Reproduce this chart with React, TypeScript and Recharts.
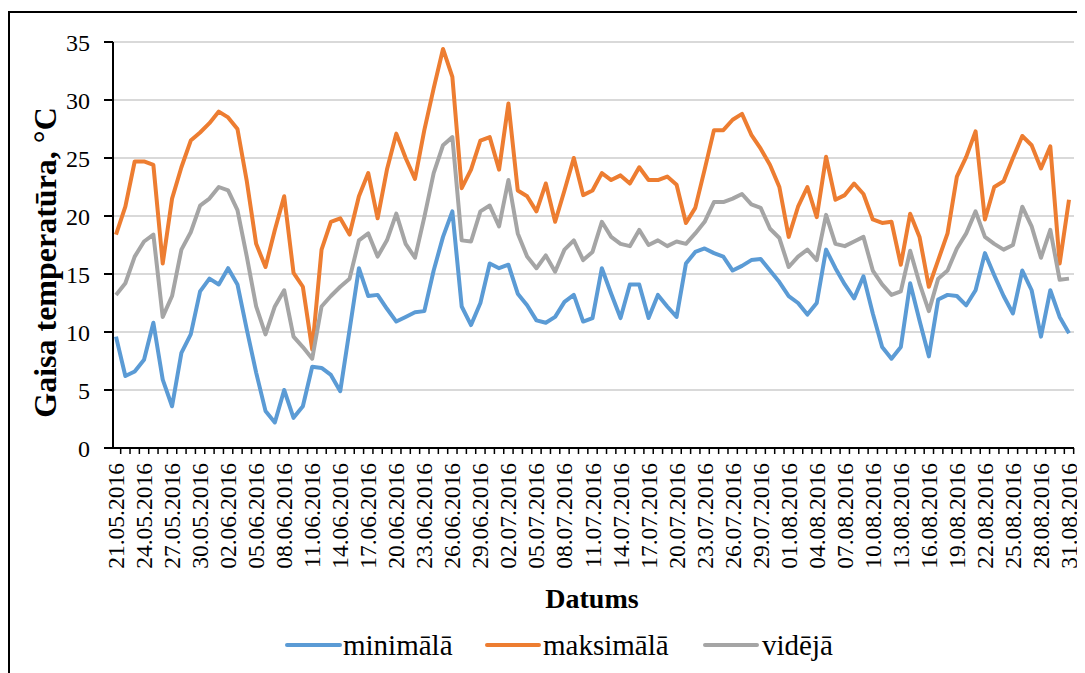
import React from 'react';
import { LineChart, Line, XAxis, YAxis, CartesianGrid } from 'recharts';

const dates: string[] = [
  '21.05.2016', '22.05.2016', '23.05.2016', '24.05.2016', '25.05.2016', '26.05.2016', '27.05.2016', '28.05.2016', '29.05.2016', '30.05.2016', '31.05.2016',
  '01.06.2016', '02.06.2016', '03.06.2016', '04.06.2016', '05.06.2016', '06.06.2016', '07.06.2016', '08.06.2016', '09.06.2016', '10.06.2016',
  '11.06.2016', '12.06.2016', '13.06.2016', '14.06.2016', '15.06.2016', '16.06.2016', '17.06.2016', '18.06.2016', '19.06.2016', '20.06.2016',
  '21.06.2016', '22.06.2016', '23.06.2016', '24.06.2016', '25.06.2016', '26.06.2016', '27.06.2016', '28.06.2016', '29.06.2016', '30.06.2016',
  '01.07.2016', '02.07.2016', '03.07.2016', '04.07.2016', '05.07.2016', '06.07.2016', '07.07.2016', '08.07.2016', '09.07.2016', '10.07.2016',
  '11.07.2016', '12.07.2016', '13.07.2016', '14.07.2016', '15.07.2016', '16.07.2016', '17.07.2016', '18.07.2016', '19.07.2016', '20.07.2016',
  '21.07.2016', '22.07.2016', '23.07.2016', '24.07.2016', '25.07.2016', '26.07.2016', '27.07.2016', '28.07.2016', '29.07.2016', '30.07.2016',
  '31.07.2016', '01.08.2016', '02.08.2016', '03.08.2016', '04.08.2016', '05.08.2016', '06.08.2016', '07.08.2016', '08.08.2016', '09.08.2016',
  '10.08.2016', '11.08.2016', '12.08.2016', '13.08.2016', '14.08.2016', '15.08.2016', '16.08.2016', '17.08.2016', '18.08.2016', '19.08.2016',
  '20.08.2016', '21.08.2016', '22.08.2016', '23.08.2016', '24.08.2016', '25.08.2016', '26.08.2016', '27.08.2016', '28.08.2016', '29.08.2016',
  '30.08.2016', '31.08.2016',
];

const minimala: number[] = [
  9.6, 6.2, 6.6, 7.6, 10.8, 5.9, 3.6, 8.2, 9.8, 13.5,
  14.6, 14.1, 15.5, 14.1, 10.2, 6.5, 3.2, 2.2, 5.0, 2.6,
  3.6, 7.0, 6.9, 6.3, 4.9, 10.2, 15.5, 13.1, 13.2, 12.0,
  10.9, 11.3, 11.7, 11.8, 15.3, 18.2, 20.4, 12.2, 10.6, 12.5,
  15.9, 15.5, 15.8, 13.3, 12.3, 11.0, 10.8, 11.3, 12.6, 13.2,
  10.9, 11.2, 15.5, 13.3, 11.2, 14.1, 14.1, 11.2, 13.2, 12.2,
  11.3, 15.9, 16.9, 17.2, 16.8, 16.5, 15.3, 15.7, 16.2, 16.3,
  15.3, 14.3, 13.1, 12.5, 11.5, 12.5, 17.1, 15.5, 14.1, 12.9,
  14.8, 11.6, 8.7, 7.7, 8.7, 14.2, 11.0, 7.9, 12.8, 13.2,
  13.1, 12.3, 13.6, 16.8, 14.9, 13.1, 11.6, 15.3, 13.6, 9.6,
  13.6, 11.3, 9.9,
];

const maksimala: number[] = [
  18.4, 20.8, 24.7, 24.7, 24.4, 15.9, 21.5, 24.2, 26.5, 27.2,
  28.0, 29.0, 28.5, 27.5, 23.0, 17.6, 15.6, 18.8, 21.7, 15.1,
  13.9, 8.5, 17.1, 19.5, 19.8, 18.4, 21.7, 23.7, 19.8, 24.0,
  27.1, 25.0, 23.2, 27.4, 31.0, 34.4, 32.0, 22.4, 24.0, 26.5,
  26.8, 24.0, 29.7, 22.2, 21.7, 20.4, 22.8, 19.5, 22.2, 25.0,
  21.8, 22.2, 23.7, 23.1, 23.5, 22.8, 24.2, 23.1, 23.1, 23.4,
  22.7, 19.4, 20.7, 24.0, 27.4, 27.4, 28.3, 28.8, 27.0, 25.8,
  24.4, 22.5, 18.2, 20.8, 22.5, 19.9, 25.1, 21.4, 21.8, 22.8,
  21.9, 19.7, 19.4, 19.5, 15.8, 20.2, 18.2, 13.9, 16.2, 18.5,
  23.4, 25.1, 27.3, 19.7, 22.5, 23.0, 25.0, 26.9, 26.1, 24.1,
  26.0, 15.9, 21.4,
];

const videja: number[] = [
  13.2, 14.2, 16.5, 17.8, 18.4, 11.3, 13.1, 17.1, 18.6, 20.9,
  21.5, 22.5, 22.2, 20.5, 16.5, 12.2, 9.8, 12.2, 13.6, 9.6,
  8.7, 7.7, 12.2, 13.1, 13.9, 14.6, 17.9, 18.5, 16.5, 17.9,
  20.2, 17.6, 16.4, 19.9, 23.7, 26.1, 26.8, 17.9, 17.8, 20.4,
  20.9, 19.1, 23.1, 18.5, 16.5, 15.5, 16.6, 15.2, 17.1, 17.9,
  16.2, 16.9, 19.5, 18.2, 17.6, 17.4, 18.8, 17.5, 17.9, 17.4,
  17.8, 17.6, 18.5, 19.5, 21.2, 21.2, 21.5, 21.9, 21.0, 20.7,
  18.9, 18.1, 15.6, 16.5, 17.1, 16.2, 20.1, 17.6, 17.4, 17.8,
  18.2, 15.3, 14.1, 13.2, 13.5, 17.0, 14.2, 11.8, 14.6, 15.3,
  17.2, 18.5, 20.4, 18.2, 17.6, 17.1, 17.5, 20.8, 19.1, 16.4,
  18.8, 14.5, 14.6,
];

const yTicks: number[] = [0, 5, 10, 15, 20, 25, 30, 35];

const seriesNames = { min: 'minimālā', max: 'maksimālā', avg: 'vidējā' };
const colors = { min: '#5B9BD5', max: '#ED7D31', avg: '#A5A5A5' };

const data = dates.map((d, i) => ({
  date: d,
  min: minimala[i],
  max: maksimala[i],
  avg: videja[i],
}));

const SERIF = '"Liberation Serif", "Times New Roman", serif';
const W = 1077;
const H = 665;
const STEP = 9.34;

function DateTick(props: any) {
  const { x, y, payload, index } = props;
  const last = index === dates.length - 1;
  return (
    <g>
      {index > 0 && (
        <line x1={x - STEP / 2} x2={x - STEP / 2} y1={y} y2={y + 6} stroke="#000" strokeWidth={1.5} />
      )}
      {last && (
        <line x1={x + STEP / 2} x2={x + STEP / 2} y1={y} y2={y + 6} stroke="#000" strokeWidth={1.5} />
      )}
      {index % 3 === 0 && (
        <text
          transform={`translate(${x},${y + 15}) rotate(-90)`}
          textAnchor="end"
          dominantBaseline="central"
          fontSize={23.5}
          fontFamily={SERIF}
          fill="#000"
        >
          {payload.value}
        </text>
      )}
    </g>
  );
}

export default function App() {
  return (
    <div style={{ position: 'relative', width: W, height: H, overflow: 'hidden', background: '#fff' }}>
      <div
        style={{
          position: 'absolute',
          left: 0,
          top: 3,
          width: W + 20,
          height: H + 20,
          borderTop: '2px solid #000',
          borderLeft: '2px solid #000',
          boxSizing: 'border-box',
        }}
      />
      <div style={{ position: 'absolute', left: 0, top: 0 }}>
        <LineChart width={W} height={H} data={data} margin={{ top: 34, right: 11, bottom: 95, left: 0 }}>
          <CartesianGrid vertical={false} stroke="#d9d9d9" strokeWidth={2} />
          <XAxis
            dataKey="date"
            interval={0}
            tick={<DateTick />}
            tickLine={false}
            tickSize={0}
            tickMargin={0}
            axisLine={{ stroke: '#000', strokeWidth: 2 }}
            padding={{ left: 3, right: 5 }}
            height={130}
          />
          <YAxis
            width={105}
            domain={[0, 35]}
            ticks={yTicks}
            interval={0}
            tickSize={9}
            tickMargin={14}
            axisLine={{ stroke: '#000', strokeWidth: 2 }}
            tickLine={{ stroke: '#000', strokeWidth: 2 }}
            tick={{ fill: '#000', fontSize: 24, fontFamily: SERIF }}
          />
          <Line
            type="linear"
            dataKey="min"
            name={seriesNames.min}
            stroke={colors.min}
            strokeWidth={4}
            dot={false}
            isAnimationActive={false}
            strokeLinejoin="round"
          />
          <Line
            type="linear"
            dataKey="max"
            name={seriesNames.max}
            stroke={colors.max}
            strokeWidth={4}
            dot={false}
            isAnimationActive={false}
            strokeLinejoin="round"
          />
          <Line
            type="linear"
            dataKey="avg"
            name={seriesNames.avg}
            stroke={colors.avg}
            strokeWidth={4}
            dot={false}
            isAnimationActive={false}
            strokeLinejoin="round"
          />
        </LineChart>
      </div>
      <svg
        width={W}
        height={H}
        style={{ position: 'absolute', left: 0, top: 0, pointerEvents: 'none' }}
      >
        <text
          transform="translate(37,254.5) rotate(-90)"
          textAnchor="middle"
          dominantBaseline="central"
          fontSize={32}
          fontWeight="bold"
          fontFamily={SERIF}
          fill="#000"
        >
          Gaisa temperatūra, °C
        </text>
        <text x={584} y={600} textAnchor="middle" fontSize={28} fontWeight="bold" fontFamily={SERIF} fill="#000">
          Datums
        </text>
        <line x1={279} x2={332} y1={637} y2={637} stroke={colors.min} strokeWidth={4} strokeLinecap="round" />
        <text x={335} y={647} fontSize={29} fontFamily={SERIF} fill="#000">{seriesNames.min}</text>
        <line x1={479} x2={531} y1={637} y2={637} stroke={colors.max} strokeWidth={4} strokeLinecap="round" />
        <text x={535} y={647} fontSize={29} fontFamily={SERIF} fill="#000">{seriesNames.max}</text>
        <line x1={697} x2={749} y1={637} y2={637} stroke={colors.avg} strokeWidth={4} strokeLinecap="round" />
        <text x={754} y={647} fontSize={29} fontFamily={SERIF} fill="#000">{seriesNames.avg}</text>
      </svg>
    </div>
  );
}
